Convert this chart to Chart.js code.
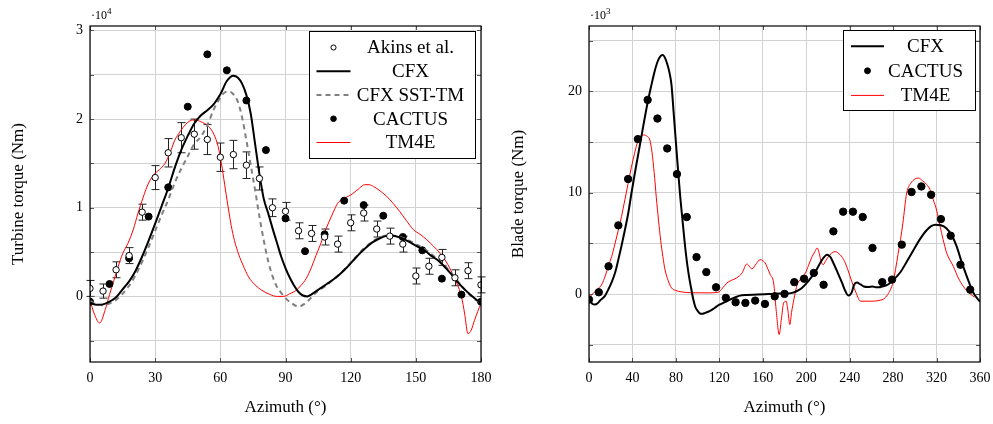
<!DOCTYPE html>
<html>
<head>
<meta charset="utf-8">
<script src="https://cdn.jsdelivr.net/npm/chart.js@4.4.1/dist/chart.umd.min.js"></script>
<style>
  html, body { margin: 0; padding: 0; background: #fff; }
  #wrap { position: relative; width: 993px; height: 424px; }
  canvas { position: absolute; top: 0; }
  #turbine { left: 0; }
  #blade { left: 496px; }
</style>
</head>
<body>
<div id="wrap">
  <canvas id="turbine" width="496" height="424"></canvas>
  <canvas id="blade" width="497" height="424"></canvas>
</div>
<script>
// ---- turbine torque (x 10^4 Nm) vs azimuth ----
const akinsAz = [0, 6, 12, 18, 24, 30, 36, 42, 48, 54, 60, 66, 72, 78, 84, 90, 96, 102, 108, 114, 120, 126, 132, 138, 144, 150, 156, 162, 168, 174, 180];
const akinsTorque = [0.09, 0.06, 0.30, 0.46, 0.95, 1.34, 1.62, 1.79, 1.83, 1.77, 1.57, 1.60, 1.48, 1.33, 1.00, 0.96, 0.74, 0.71, 0.67, 0.59, 0.83, 0.94, 0.76, 0.68, 0.59, 0.23, 0.34, 0.44, 0.21, 0.29, 0.13];
const akinsErr = [0.09, 0.08, 0.09, 0.09, 0.09, 0.135, 0.16, 0.17, 0.17, 0.17, 0.16, 0.16, 0.15, 0.13, 0.10, 0.10, 0.09, 0.09, 0.09, 0.09, 0.09, 0.09, 0.09, 0.09, 0.09, 0.09, 0.09, 0.09, 0.09, 0.09, 0.09];

const cfxAz = [0, 3, 6, 9, 12, 15, 18, 21, 24, 27, 30, 33, 36, 39, 42, 45, 48, 51, 54, 57, 60, 63, 66, 68, 70, 72, 74, 76, 78, 80, 82, 84, 86, 88, 90, 92, 94, 96, 98, 100, 103, 106, 109, 112, 115, 118, 121, 124, 127, 130, 133, 136, 139, 142, 145, 148, 151, 154, 157, 160, 163, 166, 169, 172, 175, 178, 180];
const cfxTorque = [-0.07, -0.095, -0.09, -0.06, -0.01, 0.08, 0.17, 0.29, 0.45, 0.63, 0.82, 1.02, 1.22, 1.45, 1.65, 1.81, 1.95, 2.04, 2.10, 2.17, 2.28, 2.43, 2.49, 2.47, 2.40, 2.27, 2.06, 1.72, 1.38, 1.10, 0.94, 0.77, 0.61, 0.45, 0.32, 0.21, 0.12, 0.05, 0.01, 0.0, 0.04, 0.09, 0.14, 0.19, 0.25, 0.32, 0.40, 0.48, 0.55, 0.61, 0.65, 0.68, 0.685, 0.67, 0.64, 0.60, 0.56, 0.52, 0.46, 0.41, 0.34, 0.26, 0.17, 0.09, 0.02, -0.04, -0.07];

const sstAz = [0, 3, 6, 9, 12, 15, 18, 21, 24, 27, 30, 33, 36, 39, 42, 45, 48, 51, 54, 57, 60, 62, 64, 66, 68, 70, 72, 74, 76, 78, 80, 82, 84, 86, 88, 90, 93, 96, 99, 102, 105, 108, 111, 114, 117, 120, 123, 126, 129, 132, 135, 138, 141, 144, 147, 150, 153, 156, 159, 162, 165, 168, 171, 174, 177, 180];
const sstTorque = [-0.05, -0.09, -0.10, -0.08, -0.04, 0.03, 0.12, 0.24, 0.39, 0.56, 0.74, 0.92, 1.09, 1.28, 1.44, 1.58, 1.72, 1.80, 1.93, 2.11, 2.24, 2.30, 2.31, 2.28, 2.20, 2.02, 1.76, 1.48, 1.20, 0.90, 0.63, 0.40, 0.23, 0.11, 0.04, -0.02, -0.08, -0.115, -0.08, -0.01, 0.06, 0.11, 0.17, 0.23, 0.30, 0.38, 0.46, 0.54, 0.60, 0.65, 0.68, 0.69, 0.68, 0.66, 0.63, 0.59, 0.55, 0.50, 0.44, 0.38, 0.30, 0.21, 0.12, 0.04, -0.03, -0.07];

const cactusAz = [0, 9, 18, 27, 36, 45, 54, 63, 72, 81, 90, 99, 108, 117, 126, 135, 144, 153, 162, 171, 180];
const cactusTorque = [-0.06, 0.14, 0.43, 0.90, 1.23, 2.14, 2.73, 2.55, 2.21, 1.65, 0.88, 0.51, 0.70, 1.08, 1.03, 0.91, 0.67, 0.52, 0.20, 0.02, -0.06];

const tm4eAz = [0, 2, 4.5, 7, 9, 11, 13, 15, 17.5, 20, 22, 24.5, 27, 30, 32, 34.5, 37, 39, 41.5, 44, 46, 48.5, 51, 54.5, 57, 59, 60.5, 62, 63.5, 65, 66.5, 68.5, 70.5, 73, 76, 79, 83, 86, 89, 92, 95, 97, 99.5, 102, 104, 106, 108, 110, 112, 114, 116.5, 119, 121, 124, 126.5, 128.5, 130.5, 133, 136.5, 139.5, 142.5, 145.5, 149, 152, 155, 158, 161, 164, 167, 169, 171, 172.5, 174, 175.5, 177, 178.5, 180];
const tm4eTorque = [-0.04, -0.20, -0.30, -0.15, 0.02, 0.18, 0.34, 0.48, 0.60, 0.76, 0.93, 1.12, 1.28, 1.39, 1.43, 1.50, 1.63, 1.76, 1.86, 1.94, 1.98, 1.99, 1.97, 1.92, 1.83, 1.69, 1.50, 1.26, 1.02, 0.80, 0.63, 0.47, 0.35, 0.22, 0.13, 0.07, 0.02, 0.0, 0.0, 0.03, 0.07, 0.12, 0.20, 0.33, 0.46, 0.58, 0.72, 0.84, 0.95, 1.05, 1.10, 1.13, 1.16, 1.22, 1.26, 1.26, 1.24, 1.20, 1.13, 1.05, 0.96, 0.86, 0.75, 0.70, 0.64, 0.57, 0.49, 0.39, 0.25, 0.14, 0.0, -0.20, -0.42, -0.38, -0.27, -0.17, -0.08];

const turbineAzTicks = [0, 30, 60, 90, 120, 150, 180];
const turbineTorqueTicks = [-0.5, 0, 0.5, 1, 1.5, 2, 2.5, 3];
const turbineTorqueLabels = [0, 1, 2, 3];

// ---- blade torque (x 10^3 Nm) vs azimuth ----
const bladeCfxAz = [0, 3, 5.5, 8, 11, 14.5, 18, 21, 24, 27, 30, 33, 36, 39, 42, 45, 48, 51, 54, 57, 60, 63, 66, 68, 70, 72, 74, 76, 78, 80, 82, 84, 86, 88, 90, 92, 94, 96, 98, 100, 102, 104, 107, 111, 115, 120, 125, 130, 135, 139, 145, 155, 165, 175, 182, 187, 191, 196, 200.5, 205, 209.5, 213, 216, 219, 222, 225, 229, 233, 236, 239, 242, 244, 246.5, 250, 253, 257, 261, 264, 267, 270, 273, 276, 279, 283, 287, 292, 298, 304, 310, 315, 319, 324, 329, 334, 338.5, 343, 348, 354, 360];
const bladeCfxTorque = [-0.54, -0.95, -1.03, -0.9, -0.55, -0.2, 0.5, 1.2, 2.1, 3.4, 4.8, 6.3, 7.9, 9.9, 11.8, 13.6, 15.4, 17.2, 18.9, 20.4, 21.8, 22.9, 23.5, 23.6, 23.3, 22.7, 21.9, 20.6, 17.8, 15.0, 12.2, 9.6, 7.4, 5.2, 3.3, 1.8, 0.6, -0.5, -1.3, -1.65, -1.9, -1.95, -1.85, -1.69, -1.42, -1.05, -0.8, -0.54, -0.3, -0.15, -0.08, -0.05, 0.0, 0.05, 0.05, 0.12, 0.28, 0.6, 1.1, 1.7, 2.4, 3.1, 3.6, 3.89, 3.7, 3.07, 2.1, 1.1, 0.3, -0.15, 0.2, 0.9, 1.15, 0.95, 0.75, 0.7, 0.75, 0.68, 0.67, 0.74, 0.84, 1.0, 1.3, 1.7, 2.2, 3.1, 4.2, 5.3, 6.2, 6.7, 6.85, 6.8, 6.5, 5.8, 4.7, 3.2, 1.7, 0.1, -0.75];

const bladeCactusAz = [0, 9, 18, 27, 36, 45, 54, 63, 72, 81, 90, 99, 108, 117, 126, 135, 144, 153, 162, 171, 180, 189, 198, 207, 216, 225, 234, 243, 252, 261, 270, 279, 288, 297, 306, 315, 324, 333, 342, 351];
const bladeCactusTorque = [-0.54, 0.18, 2.74, 6.78, 11.35, 15.29, 19.16, 17.32, 14.37, 11.84, 7.6, 3.65, 2.17, 0.67, -0.37, -0.81, -0.87, -0.64, -0.97, -0.22, 0.02, 1.18, 1.52, 2.09, 0.92, 6.19, 8.13, 8.13, 7.6, 4.55, 1.18, 1.43, 4.88, 10.07, 10.62, 9.8, 7.4, 5.76, 2.9, 0.44];

const bladeTm4eAz = [0, 4, 8, 11.7, 15, 18, 20.9, 24, 27, 30, 33, 36, 39, 42, 45, 48, 50, 53, 56, 58, 60, 62, 64, 66, 68, 70, 73, 76, 80, 85, 95, 110, 119, 123, 127, 131, 136, 141, 145.3, 148, 150, 154, 157.6, 160, 162.2, 165, 167, 170, 172.3, 175.1, 177, 179.2, 181.5, 183, 184.9, 186.5, 188.6, 191.7, 195, 199.3, 202, 205.5, 208, 210.1, 212, 213.5, 215.6, 218, 220.6, 223.5, 226.8, 230, 234.5, 238, 242.4, 246, 250, 262, 268, 271.5, 275, 277.6, 280, 282.2, 284.5, 286.8, 289, 292.5, 296, 300, 303.2, 307, 311, 314, 317, 320, 323, 326, 329.3, 335.4, 340, 344.6, 350, 355];
const bladeTm4eTorque = [-0.37, 0.1, 0.5, 0.94, 1.8, 2.8, 3.72, 5.0, 6.3, 7.67, 9.3, 10.9, 12.5, 13.9, 15.1, 15.6, 15.7, 15.6, 15.2, 14.0, 12.0, 9.5, 7.3, 5.3, 3.7, 2.4, 1.3, 0.61, 0.35, 0.22, 0.13, 0.12, 0.18, 0.6, 1.1, 1.35, 1.6, 2.1, 2.97, 2.7, 2.48, 3.0, 3.4, 3.3, 3.07, 2.4, 1.9, 1.1, -1.53, -3.99, -2.6, -0.87, -0.7, -1.5, -3.0, -1.8, -0.54, 0.94, 1.5, 2.09, 2.8, 3.72, 4.2, 4.55, 4.0, 3.3, 2.9, 3.3, 3.72, 4.05, 4.19, 4.0, 3.4, 2.5, 1.1, 0.1, -0.7, -0.7, -0.6, -0.47, -0.05, 0.44, 1.2, 2.41, 3.9, 5.37, 7.0, 9.97, 10.9, 11.35, 11.45, 11.2, 10.8, 10.3, 9.3, 8.3, 6.8, 5.4, 4.06, 2.74, 1.6, 0.77, 0.1, -0.3];

const bladeAzTicks = [0, 40, 80, 120, 160, 200, 240, 280, 320, 360];
const bladeTorqueTicks = [-5, 0, 5, 10, 15, 20, 25];
const bladeTorqueLabels = [0, 10, 20];

const FONT = '"Liberation Serif", "Times New Roman", serif';

function zip(xs, ys) {
    return xs.map((x, i) => ({ x: x, y: ys[i] }));
}

// error bars drawn under the markers
const errorBars = {
    id: "errorBars",
    beforeDatasetsDraw(chart) {
        const ctx = chart.ctx;
        const xs = chart.scales.x, ys = chart.scales.y;
        chart.data.datasets.forEach(ds => {
            if (!ds.errors) return;
            ctx.save();
            ctx.strokeStyle = "#222";
            ctx.lineWidth = 1;
            ds.data.forEach((p, j) => {
                const px = Math.round(xs.getPixelForValue(p.x)) + 0.5;
                const t = ys.getPixelForValue(p.y + ds.errors[j]);
                const b = ys.getPixelForValue(p.y - ds.errors[j]);
                ctx.beginPath();
                ctx.moveTo(px, t); ctx.lineTo(px, b);
                ctx.moveTo(px - 4, t); ctx.lineTo(px + 4, t);
                ctx.moveTo(px - 4, b); ctx.lineTo(px + 4, b);
                ctx.stroke();
            });
            ctx.restore();
        });
    }
};

// pgfplots style frame, inner ticks and exponent note
const frame = {
    id: "frame",
    afterDraw(chart, args, opts) {
        const { ctx, chartArea: a, scales } = chart;
        ctx.save();
        ctx.strokeStyle = "#555";
        ctx.lineWidth = 1;
        ctx.beginPath();
        scales.x.ticks.forEach(t => {
            const px = Math.round(scales.x.getPixelForValue(t.value)) + 0.5;
            ctx.moveTo(px, a.bottom); ctx.lineTo(px, a.bottom - 4);
            ctx.moveTo(px, a.top); ctx.lineTo(px, a.top + 4);
        });
        scales.y.ticks.forEach(t => {
            const py = Math.round(scales.y.getPixelForValue(t.value)) + 0.5;
            ctx.moveTo(a.left, py); ctx.lineTo(a.left + 4, py);
            ctx.moveTo(a.right, py); ctx.lineTo(a.right - 4, py);
        });
        ctx.stroke();
        ctx.strokeStyle = "#000";
        ctx.lineWidth = 1.2;
        ctx.strokeRect(a.left, a.top, a.right - a.left, a.bottom - a.top);

        ctx.fillStyle = "#000";
        ctx.textAlign = "left";
        ctx.textBaseline = "alphabetic";
        ctx.font = "12px " + FONT;
        ctx.fillText("·10", a.left + 1, a.top - 7);
        const w = ctx.measureText("·10").width;
        ctx.font = "9px " + FONT;
        ctx.fillText(opts.exponent, a.left + 1 + w, a.top - 12);
        ctx.restore();
    }
};

// boxed legend inside the plot, top right
const boxLegend = {
    id: "boxLegend",
    afterDraw(chart, args, o) {
        const { ctx, chartArea: a } = chart;
        const left = Math.round(a.right - o.offsetRight) + 0.5;
        const top = Math.round(a.top + o.offsetTop) + 0.5;
        ctx.save();
        ctx.fillStyle = "#fff";
        ctx.fillRect(left, top, o.width, o.height);
        ctx.strokeStyle = "#000";
        ctx.lineWidth = 1;
        ctx.strokeRect(left, top, o.width, o.height);
        chart.data.datasets.forEach((ds, i) => {
            const y = top + o.firstRow + i * o.rowGap;
            const x0 = left + o.sampleLeft, x1 = x0 + o.sampleWidth;
            if (!ds.showLine) {
                ctx.beginPath();
                ctx.arc((x0 + x1) / 2, y, ds.pointRadius * 0.8, 0, 2 * Math.PI);
                ctx.fillStyle = ds.pointBackgroundColor;
                ctx.fill();
                ctx.lineWidth = 1;
                ctx.strokeStyle = ds.pointBorderColor;
                ctx.stroke();
            } else {
                ctx.beginPath();
                ctx.setLineDash(ds.borderDash || []);
                ctx.moveTo(x0, y); ctx.lineTo(x1, y);
                ctx.strokeStyle = ds.borderColor;
                ctx.lineWidth = ds.borderWidth;
                ctx.stroke();
                ctx.setLineDash([]);
            }
            ctx.fillStyle = "#000";
            ctx.font = o.fontSize + "px " + FONT;
            ctx.textAlign = "center";
            ctx.textBaseline = "middle";
            ctx.fillText(ds.label, left + o.textCenter, y + 1);
        });
        ctx.restore();
    }
};

function lineSet(label, xs, ys, color, width, dash) {
    return {
        label: label,
        data: zip(xs, ys),
        showLine: true,
        borderColor: color,
        borderWidth: width,
        borderDash: dash || [],
        pointRadius: 0,
        cubicInterpolationMode: "monotone"
    };
}

function markerSet(label, xs, ys, fill, radius) {
    return {
        label: label,
        data: zip(xs, ys),
        showLine: false,
        pointRadius: radius,
        pointHoverRadius: radius,
        pointBackgroundColor: fill,
        pointBorderColor: "#000",
        pointBorderWidth: 1
    };
}

function makeOptions(c) {
    return {
        responsive: false,
        animation: false,
        layout: { padding: { top: 26, right: c.padRight, left: 0, bottom: 0 } },
        plugins: {
            legend: { display: false },
            tooltip: { enabled: false },
            frame: { exponent: c.exponent },
            boxLegend: c.legend
        },
        scales: {
            x: {
                type: "linear",
                min: c.xTicks[0],
                max: c.xTicks[c.xTicks.length - 1],
                afterBuildTicks: s => { s.ticks = c.xTicks.map(v => ({ value: v })); },
                afterFit: s => { s.height = 62; s.paddingLeft = 0; s.paddingRight = 0; },
                grid: { color: "#d2d2d2", lineWidth: 1, drawTicks: false },
                border: { display: false },
                ticks: { color: "#000", padding: 8, font: { family: FONT, size: 14 }, maxRotation: 0 },
                title: { display: true, text: "Azimuth (°)", color: "#000", font: { family: FONT, size: 17 }, padding: { top: 0, bottom: 6 } }
            },
            y: {
                type: "linear",
                min: c.yMin,
                max: c.yMax,
                afterBuildTicks: s => { s.ticks = c.yTicks.map(v => ({ value: v })); },
                afterFit: s => { s.width = c.yWidth; s.paddingTop = 0; s.paddingBottom = 0; },
                grid: { color: "#d2d2d2", lineWidth: 1, drawTicks: false },
                border: { display: false },
                ticks: {
                    color: "#000", padding: 7, font: { family: FONT, size: 14 },
                    callback: v => c.yLabels.includes(v) ? String(v) : ""
                },
                title: { display: true, text: c.yTitle, color: "#000", font: { family: FONT, size: 17 }, padding: { top: c.yTitlePad, bottom: 0 } }
            }
        }
    };
}

const akins = markerSet("Akins et al.", akinsAz, akinsTorque, "#fff", 3.2);
akins.errors = akinsErr;

new Chart(document.getElementById("turbine"), {
    type: "scatter",
    data: {
        datasets: [
            akins,
            lineSet("CFX", cfxAz, cfxTorque, "#000", 2),
            lineSet("CFX SST-TM", sstAz, sstTorque, "#808080", 2, [5, 4]),
            markerSet("CACTUS", cactusAz, cactusTorque, "#000", 3.5),
            lineSet("TM4E", tm4eAz, tm4eTorque, "#ff0000", 1)
        ]
    },
    options: makeOptions({
        padRight: 15, exponent: "4",
        xTicks: turbineAzTicks, yTicks: turbineTorqueTicks, yLabels: turbineTorqueLabels,
        yMin: -0.74, yMax: 3.05, yWidth: 90,
        yTitle: "Turbine torque (Nm)", yTitlePad: 8,
        legend: { offsetRight: 172, offsetTop: 4.5, width: 166, height: 127, firstRow: 16, rowGap: 23.75,
                  sampleLeft: 7, sampleWidth: 34, textCenter: 101, fontSize: 19 }
    }),
    plugins: [errorBars, frame, boxLegend]
});

new Chart(document.getElementById("blade"), {
    type: "scatter",
    data: {
        datasets: [
            lineSet("CFX", bladeCfxAz, bladeCfxTorque, "#000", 2),
            markerSet("CACTUS", bladeCactusAz, bladeCactusTorque, "#000", 3.7),
            lineSet("TM4E", bladeTm4eAz, bladeTm4eTorque, "#ff0000", 1)
        ]
    },
    options: makeOptions({
        padRight: 13, exponent: "3",
        xTicks: bladeAzTicks, yTicks: bladeTorqueTicks, yLabels: bladeTorqueLabels,
        yMin: -6.7, yMax: 26.45, yWidth: 93,
        yTitle: "Blade torque (Nm)", yTitlePad: 12,
        legend: { offsetRight: 137, offsetTop: 4, width: 132, height: 80, firstRow: 15.7, rowGap: 24.6,
                  sampleLeft: 7.5, sampleWidth: 33, textCenter: 82, fontSize: 19 }
    }),
    plugins: [errorBars, frame, boxLegend]
});
</script>
</body>
</html>
